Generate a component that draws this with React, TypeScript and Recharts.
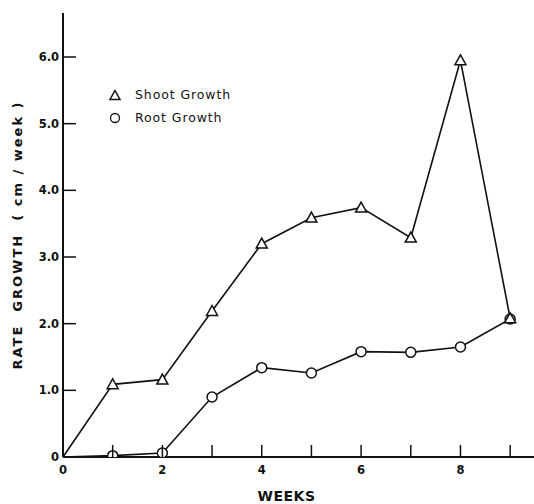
import React from 'react';
import { LineChart, Line, XAxis, YAxis, Legend } from 'recharts';

// weekly growth rates (cm / week)
const weeks = [0, 1, 2, 3, 4, 5, 6, 7, 8, 9];
const shootGrowth = [0, 1.09, 1.16, 2.19, 3.2, 3.59, 3.74, 3.29, 5.95, 2.08];
const rootGrowth = [0, 0.02, 0.06, 0.9, 1.34, 1.26, 1.58, 1.57, 1.65, 2.07];

const xTicks = [0, 1, 2, 3, 4, 5, 6, 7, 8, 9];
const xTickLabels = ['0', '', '2', '', '4', '', '6', '', '8', ''];
const yTicks = [0, 1, 2, 3, 4, 5, 6];
const yTickLabels = ['0', '1.0', '2.0', '3.0', '4.0', '5.0', '6.0'];

const legendLabels = ['Shoot Growth', 'Root Growth'];

const data = weeks.map((w, i) => ({ week: w, shoot: shootGrowth[i], root: rootGrowth[i] }));

const INK = '#111';
const FONT = '"DejaVu Sans", sans-serif';

const XTick = (props: any) => {
  const { x, y, payload, index } = props;
  const label = xTickLabels[index];
  return (
    <g>
      {payload.value > 0 && (
        <line x1={x} x2={x} y1={y} y2={y - 12} stroke={INK} strokeWidth={1.5} />
      )}
      {label && (
        <text x={x} y={y + 17} textAnchor="middle" fontFamily={FONT} fontWeight="bold" fontSize={11.5} fill={INK}>
          {label}
        </text>
      )}
    </g>
  );
};

const YTick = (props: any) => {
  const { x, y, index } = props;
  return (
    <g>
      {index > 0 && <line x1={x} x2={x + 13} y1={y} y2={y} stroke={INK} strokeWidth={1.5} />}
      <text x={x - 4} y={y} dy="0.36em" textAnchor="end" fontFamily={FONT} fontWeight="bold" fontSize={11.5} fill={INK}>
        {yTickLabels[index]}
      </text>
    </g>
  );
};

const Triangle = ({ cx, cy, size = 6 }: { cx: number; cy: number; size?: number }) => (
  <path
    d={`M${cx},${cy - size} L${cx + size},${cy + size * 0.8} L${cx - size},${cy + size * 0.8} Z`}
    fill="#fff"
    stroke={INK}
    strokeWidth={1.5}
  />
);

const ShootDot = (props: any) => {
  const { cx, cy, index } = props;
  if (index === 0) return <g key={`s-${index}`} />;
  return <Triangle key={`s-${index}`} cx={cx} cy={cy} size={5.5} />;
};

const RootDot = (props: any) => {
  const { cx, cy, index } = props;
  if (index === 0) return <g key={`r-${index}`} />;
  return <circle key={`r-${index}`} cx={cx} cy={cy} r={5} fill="#fff" stroke={INK} strokeWidth={1.5} />;
};

const YLabel = (props: any) => {
  const { viewBox } = props;
  const cx = viewBox.x + 17;
  const cy = viewBox.y + viewBox.height / 2;
  return (
    <text
      x={cx}
      y={cy}
      transform={`rotate(-90, ${cx}, ${cy})`}
      textAnchor="middle"
      dominantBaseline="central"
      fontFamily={FONT}
      fontWeight="bold"
      fontSize={13}
      letterSpacing={2}
      fill={INK}
    >
      RATE&#160;&#160;GROWTH&#160;&#160;(&#160;cm&#160;/&#160;week&#160;)
    </text>
  );
};

const XLabel = (props: any) => {
  const { viewBox } = props;
  const cx = viewBox.x + viewBox.width / 2 - 12;
  return (
    <text x={cx} y={viewBox.y + 44} textAnchor="middle" fontFamily={FONT} fontWeight="bold" fontSize={14} letterSpacing={0.5} fill={INK}>
      WEEKS
    </text>
  );
};

const LegendBox = () => (
  <div style={{ fontFamily: FONT, fontSize: 12.5, color: INK, letterSpacing: 0.9 }}>
    {legendLabels.map((name, i) => (
      <div key={name} style={{ display: 'flex', alignItems: 'center', height: 23 }}>
        <svg width={20} height={14} style={{ marginRight: 9 }}>
          {i === 0 ? (
            <Triangle cx={9} cy={7.5} size={5} />
          ) : (
            <circle cx={9} cy={7} r={4.5} fill="#fff" stroke={INK} strokeWidth={1.3} />
          )}
        </svg>
        <span>{name}</span>
      </div>
    ))}
  </div>
);

export default function App() {
  return (
    <div style={{ position: 'absolute', left: 0, top: 0, width: 534, height: 504, background: '#fff' }}>
      <LineChart width={534} height={504} data={data} margin={{ top: 13, right: 0, bottom: 0, left: 0 }}>
        <XAxis
          dataKey="week"
          type="number"
          domain={[0, 9.48]}
          ticks={xTicks}
          interval={0}
          height={47}
          tickSize={0}
          tickMargin={0}
          tickLine={false}
          axisLine={{ stroke: INK, strokeWidth: 2 }}
          tick={<XTick />}
          label={<XLabel />}
          allowDataOverflow
        />
        <YAxis
          type="number"
          domain={[0, 6.66]}
          ticks={yTicks}
          interval={0}
          width={63}
          tickSize={0}
          tickMargin={0}
          tickLine={false}
          axisLine={{ stroke: INK, strokeWidth: 2 }}
          tick={<YTick />}
          label={<YLabel />}
          allowDataOverflow
        />
        <Legend
          layout="horizontal"
          verticalAlign="middle"
          align="center"
          content={<LegendBox />}
          wrapperStyle={{ left: 106, top: 83, width: 'auto', height: 'auto' }}
        />
        <Line
          type="linear"
          dataKey="root"
          stroke={INK}
          strokeWidth={1.6}
          dot={<RootDot />}
          activeDot={false}
          isAnimationActive={false}
        />
        <Line
          type="linear"
          dataKey="shoot"
          stroke={INK}
          strokeWidth={1.6}
          dot={<ShootDot />}
          activeDot={false}
          isAnimationActive={false}
        />
      </LineChart>
    </div>
  );
}
